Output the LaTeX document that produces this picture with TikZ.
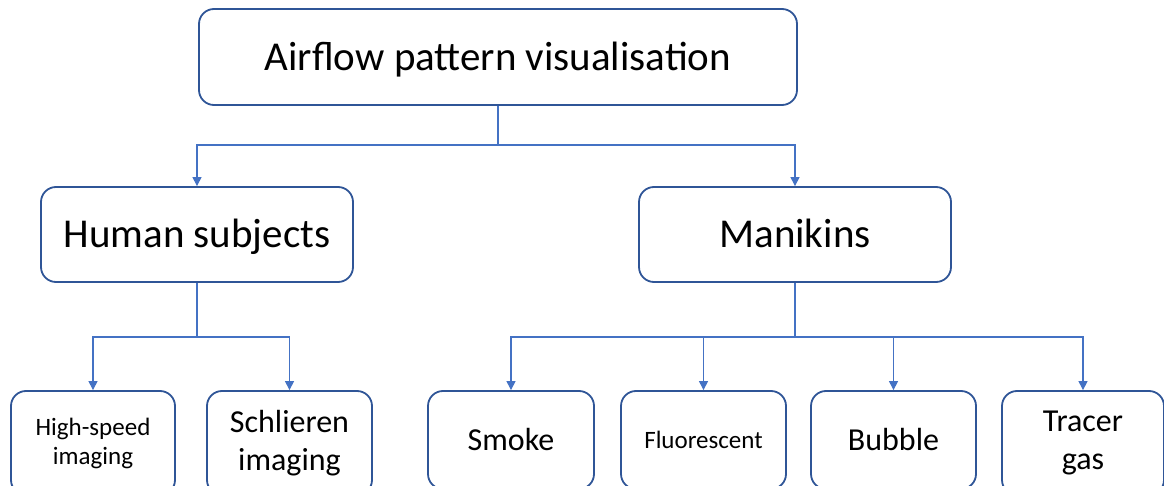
\documentclass[tikz,border=0pt]{standalone}
\usepackage{fontspec}
\setmainfont{Carlito}
\usetikzlibrary{arrows.meta}
\definecolor{boxblue}{HTML}{2F5597}
\definecolor{lineblue}{HTML}{4472C4}
\begin{document}
\begin{tikzpicture}[x=1pt,y=-1pt,
  box/.style={draw=boxblue,line width=1.8pt,rounded corners=15pt,fill=white,align=center,inner sep=0pt,text=black},
  big/.style={font=\fontsize{41}{48}\selectfont,text height=27pt,text depth=0pt},
  mid/.style={font=\fontsize{32}{38}\selectfont,text height=21pt,text depth=0pt},
  small/.style={font=\fontsize{25}{29}\selectfont,text height=16.5pt,text depth=0pt},
  conn/.style={draw=lineblue,line width=1.1pt},
  arr/.style={conn,-{Triangle[length=9pt,width=9pt]}}]
\useasboundingbox (0,0) rectangle (1164,486);
\clip (0,0) rectangle (1164,486);
\node[box,big,minimum width=598pt,minimum height=96pt] (top) at (498,57) {Airflow pattern visualisation};
\node[box,big,minimum width=312pt,minimum height=95pt] (hum) at (197,234.5) {Human subjects};
\node[box,big,minimum width=312pt,minimum height=95pt] (man) at (795,234.5) {Manikins};
\node[box,minimum width=164pt,minimum height=104pt,font=\fontsize{25}{29}\selectfont] (hs) at (93,443) {High-speed\\imaging};
\node[box,minimum width=165pt,minimum height=104pt,font=\fontsize{32}{38}\selectfont] (sc) at (289.5,443) {Schlieren\\imaging};
\node[box,mid,minimum width=166pt,minimum height=98pt] (sm) at (511,440) {Smoke};
\node[box,small,minimum width=165pt,minimum height=98pt] (fl) at (703.5,440) {Fluorescent};
\node[box,mid,minimum width=165pt,minimum height=98pt] (bu) at (893.5,440) {Bubble};
\node[box,minimum width=162pt,minimum height=104pt,font=\fontsize{32}{38}\selectfont] (tr) at (1083,443) {Tracer\\gas};
\coordinate (j1) at (498,145);
\coordinate (j2) at (197,337);
\coordinate (j3) at (795,337);
\draw[conn] (top.south) -- (j1);
\draw[arr] (j1) -| (hum.north);
\draw[arr] (j1) -| (man.north);
\draw[conn] (hum.south) -- (j2);
\draw[arr] (j2) -| (hs.north);
\draw[arr] (j2) -| (sc.north);
\draw[conn] (man.south) -- (j3);
\draw[arr] (j3) -| (sm.north);
\draw[arr] (j3) -| (fl.north);
\draw[arr] (j3) -| (bu.north);
\draw[arr] (j3) -| (tr.north);
\end{tikzpicture}
\end{document}
